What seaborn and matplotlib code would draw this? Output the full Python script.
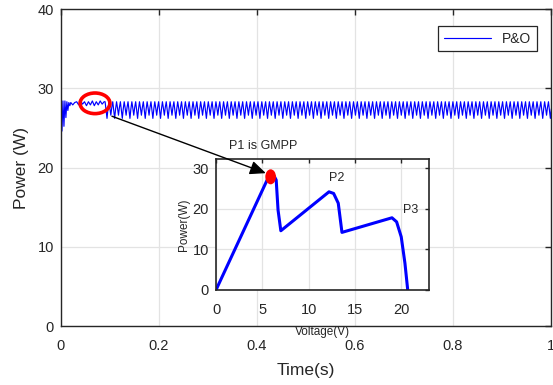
import numpy as np
import pandas as pd
import matplotlib
matplotlib.use("Agg")
import matplotlib.pyplot as plt
from matplotlib.patches import Ellipse
import seaborn as sns

# ─── Data ────────────────────────────────────────────────────

# start-up transient of the P&O tracker, (time s, power W)
startup_t = [0.000, 0.002, 0.004, 0.006, 0.008, 0.010, 0.012, 0.014, 0.016,
             0.018, 0.020, 0.024, 0.028, 0.032, 0.036, 0.040, 0.044, 0.048,
             0.052, 0.056, 0.060, 0.064, 0.068, 0.072, 0.076, 0.080, 0.084,
             0.088]
startup_p = [26.0, 24.6, 28.4, 25.2, 28.4, 26.3, 28.3, 27.2, 28.2,
             27.8, 28.2, 27.9, 28.2, 28.3, 27.9, 28.4, 28.0, 28.3,
             27.8, 28.3, 27.9, 28.4, 27.8, 28.3, 27.9, 28.4, 28.0,
             28.3]

# steady-state oscillation: one measured perturbation cycle (two periods)
cycle_p = [28.3, 27.3, 26.2, 27.4, 28.3, 27.5, 26.6, 27.6]
cycle_dt = 0.00195       # spacing of the cycle samples (s)
steady_start = 0.090
steady_end = 1.0

# inset P-V curve of the shaded array
pv_v = [0.0, 5.6, 5.9, 6.3, 6.5, 6.7, 7.0, 12.2, 12.7, 13.2, 13.6,
        19.0, 19.5, 20.0, 20.4, 20.7]
pv_p = [0.0, 27.5, 28.3, 28.0, 27.1, 19.7, 14.6, 24.2, 23.8, 21.4, 14.2,
        17.8, 16.8, 13.1, 6.6, 0.0]

gmpp_v, gmpp_p = 5.9, 27.9

# ─── Build frames ────────────────────────────────────────────

n_steady = int(round((steady_end - steady_start) / cycle_dt)) + 1
steady_t = steady_start + cycle_dt * np.arange(n_steady)
steady_p = np.resize(cycle_p, n_steady)   # repeat the measured cycle

df_main = pd.DataFrame({
    "t": np.concatenate([startup_t, steady_t]),
    "p": np.concatenate([startup_p, steady_p]),
})
df_pv = pd.DataFrame({"v": pv_v, "p": pv_p})

# ─── Style ───────────────────────────────────────────────────

sns.set_theme(style="whitegrid")
plt.rcParams["font.family"] = ["Liberation Sans", "DejaVu Sans"]
dark = "#262626"
grid_c = "#e3e3e3"

fig = plt.figure(figsize=(5.53, 3.85), dpi=100)
ax = fig.add_axes([0.1103, 0.1532, 0.8861, 0.8234])

sns.lineplot(data=df_main, x="t", y="p", ax=ax, color="#0000ff",
             linewidth=0.85, label="P&O", estimator=None, sort=False)

ax.set_xlim(0, 1)
ax.set_ylim(0, 40)
ax.set_xticks([0, 0.2, 0.4, 0.6, 0.8, 1.0])
ax.set_xticklabels(["0", "0.2", "0.4", "0.6", "0.8", "1"])
ax.set_yticks([0, 10, 20, 30, 40])
ax.set_xlabel("Time(s)", fontsize=12.5, color=dark, labelpad=7)
ax.set_ylabel("Power (W)", fontsize=12.5, color=dark, labelpad=6)
ax.tick_params(direction="in", length=4, width=1, colors=dark,
               labelsize=10.5, top=True, right=True, pad=5,
               labelcolor=dark)
ax.tick_params(axis="x", pad=9.5)
ax.grid(True, color=grid_c, linewidth=0.9)
for s in ax.spines.values():
    s.set_visible(True)
    s.set_color(dark)
    s.set_linewidth(1.0)

leg = ax.legend(loc="upper right", bbox_to_anchor=(0.9714, 0.9464),
                borderaxespad=0, fontsize=10, handlelength=3.4,
                fancybox=False, framealpha=1, edgecolor=dark)
leg.get_frame().set_linewidth(0.9)

# red marker around the tracked point
ax.add_patch(Ellipse((0.0694, 28.1), 0.061, 2.6, fill=False,
                     edgecolor="#ff0000", linewidth=2.6, zorder=5))

# ─── Inset ───────────────────────────────────────────────────

axi = fig.add_axes([0.3906, 0.2468, 0.3852, 0.3403])
axi.set_facecolor("white")
sns.lineplot(data=df_pv, x="v", y="p", ax=axi, color="#0000ff",
             linewidth=2.2, estimator=None, sort=False)
axi.set_xlim(0, 23)
axi.set_ylim(0, 32.3)
axi.set_xticks([0, 5, 10, 15, 20])
axi.set_yticks([0, 10, 20, 30])
axi.set_xlabel("Voltage(V)", fontsize=8.5, color=dark, labelpad=6)
axi.set_ylabel("Power(W)", fontsize=8.5, color=dark, labelpad=2)
axi.tick_params(direction="in", length=3, width=1, colors=dark,
                labelsize=10.5, top=True, right=True, pad=5,
                labelcolor=dark)
axi.tick_params(axis="x", pad=9.5)
axi.grid(True, color=grid_c, linewidth=0.9)
for s in axi.spines.values():
    s.set_visible(True)
    s.set_color(dark)
    s.set_linewidth(1.2)

axi.add_patch(Ellipse((gmpp_v, gmpp_p), 1.15, 3.7, facecolor="#ff0000",
                      edgecolor="none", zorder=6))

axi.text(13.0, 27.5, "P2", fontsize=9, color=dark, ha="center", va="center")
axi.text(20.97, 19.7, "P3", fontsize=9, color=dark, ha="center", va="center",
         clip_on=False)
axi.text(5.06, 35.6, "P1 is GMPP", fontsize=9, color=dark, ha="center",
         va="center", clip_on=False)

axi.annotate("", xy=(5.38, 28.8), xycoords="data",
             xytext=(0.104, 26.47), textcoords=ax.transData,
             arrowprops=dict(arrowstyle="-|>,head_length=0.8,head_width=0.35",
                             color="black", linewidth=1.0,
                             shrinkA=0, shrinkB=0),
             annotation_clip=False, zorder=7)

fig.savefig("out.png", dpi=100)
